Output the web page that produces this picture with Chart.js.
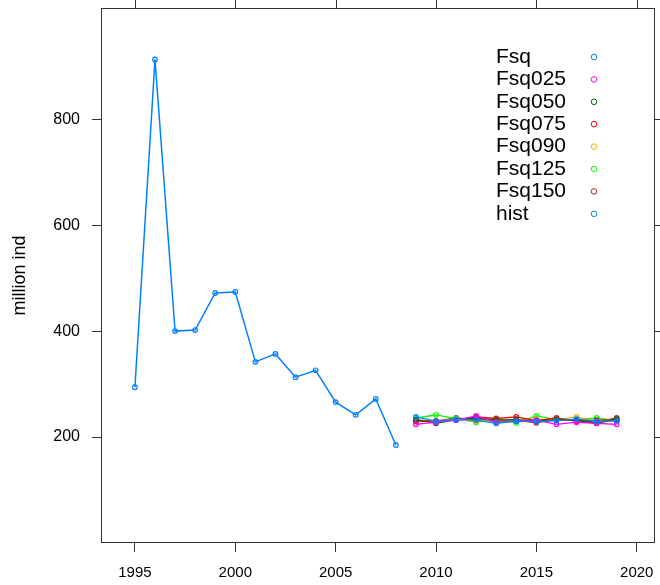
<!DOCTYPE html>
<html>
<head>
<meta charset="utf-8">
<script src="https://cdn.jsdelivr.net/npm/chart.js@4/dist/chart.umd.min.js"></script>
<style>
  html, body { margin: 0; padding: 0; background: #fff; }
  #wrap { width: 660px; height: 585px; }
</style>
</head>
<body>
<div id="wrap"><canvas id="c" width="660" height="585"></canvas></div>
<script>
// Historical abundance (million individuals)
const histYears = [1995, 1996, 1997, 1998, 1999, 2000, 2001, 2002, 2003, 2004, 2005, 2006, 2007, 2008];
const histValues = [294, 913, 400, 402, 472, 474, 342, 357, 313, 326, 266, 242, 272, 185];

// Projection years and scenario series
const projYears = [2009, 2010, 2011, 2012, 2013, 2014, 2015, 2016, 2017, 2018, 2019];
const Fsq    = [238, 230, 233, 232, 226, 230, 229, 231, 234, 230, 231];
const Fsq025 = [224, 228, 232, 240, 228, 230, 232, 224, 228, 226, 224];
const Fsq050 = [233, 226, 233, 236, 232, 233, 230, 233, 232, 226, 234];
const Fsq075 = [230, 230, 232, 238, 235, 238, 231, 236, 230, 232, 233];
const Fsq090 = [229, 231, 233, 230, 229, 231, 234, 232, 238, 229, 230];
const Fsq125 = [236, 242, 235, 228, 234, 227, 240, 233, 233, 236, 231];
const Fsq150 = [232, 230, 236, 233, 232, 232, 227, 234, 231, 228, 236];

const seriesNames = ['Fsq', 'Fsq025', 'Fsq050', 'Fsq075', 'Fsq090', 'Fsq125', 'Fsq150', 'hist'];
const seriesColors = ['#0080ff', '#ff00ff', '#006400', '#ff0000', '#ffa500', '#00ff00', '#a52a2a', '#0080ff'];

// Axis ticks
const xTicks = [1995, 2000, 2005, 2010, 2015, 2020];
const yTicks = [200, 400, 600, 800];

const FONT = '"Liberation Sans", Arial, sans-serif';
const FRAME = '#333333';
const TICK_LEN = 9;

function pts(xs, ys) { return xs.map((x, i) => ({ x: x, y: ys[i] })); }

const projSeries = [Fsq, Fsq025, Fsq050, Fsq075, Fsq090, Fsq125, Fsq150];
const datasets = projSeries.map((vals, i) => ({
  label: seriesNames[i],
  data: pts(projYears, vals),
  borderColor: seriesColors[i],
  backgroundColor: 'rgba(0,0,0,0)',
  borderWidth: 1.3,
  pointRadius: 2.3,
  pointBorderWidth: 1.2,
  pointStyle: 'circle',
  showLine: true,
  tension: 0
}));
datasets.push({
  label: 'hist',
  data: pts(histYears, histValues),
  borderColor: seriesColors[7],
  backgroundColor: 'rgba(0,0,0,0)',
  borderWidth: 1.5,
  pointRadius: 2.3,
  pointBorderWidth: 1.2,
  showLine: true,
  tension: 0
});

function setTicks(values) {
  return function (scale) { scale.ticks = values.map(v => ({ value: v })); };
}

// Key drawn in the upper right of the panel
const keyPlugin = {
  id: 'key',
  afterDraw(chart) {
    const ctx = chart.ctx;
    ctx.save();
    ctx.font = '21px ' + FONT;
    ctx.textBaseline = 'middle';
    ctx.textAlign = 'left';
    seriesNames.forEach((name, i) => {
      const y = 57 + i * 22.4;
      ctx.fillStyle = '#000';
      ctx.fillText(name, 496, y);
      ctx.beginPath();
      ctx.strokeStyle = seriesColors[i];
      ctx.lineWidth = 1;
      ctx.arc(594, y, 2.8, 0, Math.PI * 2);
      ctx.stroke();
    });
    ctx.restore();
  }
};

// Box around the panel, with tick marks mirrored on the top and right sides
const framePlugin = {
  id: 'frame',
  afterDraw(chart) {
    const a = chart.chartArea;
    const ctx = chart.ctx;
    const xs = chart.scales.x, ys = chart.scales.y;
    ctx.save();
    ctx.strokeStyle = FRAME;
    ctx.lineWidth = 1;
    const L = Math.round(a.left) + 0.5, T = Math.round(a.top) + 0.5;
    const R = Math.round(a.right) - 0.5, B = Math.round(a.bottom) - 0.5;
    ctx.strokeRect(L, T, R - L, B - T);
    ctx.beginPath();
    xTicks.forEach(v => {
      const px = Math.round(xs.getPixelForValue(v)) + 0.5;
      ctx.moveTo(px, T); ctx.lineTo(px, T - TICK_LEN);
    });
    yTicks.forEach(v => {
      const py = Math.round(ys.getPixelForValue(v)) + 0.5;
      ctx.moveTo(R, py); ctx.lineTo(R + TICK_LEN, py);
    });
    ctx.stroke();
    ctx.restore();
  }
};

const tickGrid = { drawOnChartArea: false, drawTicks: true, tickLength: TICK_LEN, color: FRAME, lineWidth: 1 };

new Chart(document.getElementById('c'), {
  type: 'scatter',
  data: { datasets: datasets },
  plugins: [keyPlugin, framePlugin],
  options: {
    responsive: false,
    animation: false,
    layout: { padding: { left: 0, right: 5, top: 8, bottom: 0 } },
    plugins: { legend: { display: false }, tooltip: { enabled: false } },
    scales: {
      x: {
        type: 'linear', position: 'bottom',
        min: 1993.31, max: 2020.9,
        afterBuildTicks: setTicks(xTicks),
        afterFit(s) { s.height = 42; s.paddingLeft = 0; s.paddingRight = 0; },
        grid: tickGrid,
        border: { display: false },
        ticks: { color: '#000', font: { family: FONT, size: 15 }, padding: 12, maxRotation: 0, callback: v => String(v) }
      },
      y: {
        type: 'linear', position: 'left',
        min: 0, max: 1010,
        afterBuildTicks: setTicks(yTicks),
        afterFit(s) { s.width = 101; s.paddingTop = 0; s.paddingBottom = 0; },
        grid: tickGrid,
        border: { display: false },
        ticks: { color: '#000', font: { family: FONT, size: 16 }, padding: 12 },
        title: { display: true, text: 'million ind', color: '#000', font: { family: FONT, size: 18 }, padding: { top: 9, bottom: 0 } }
      }
    }
  }
});
</script>
</body>
</html>
